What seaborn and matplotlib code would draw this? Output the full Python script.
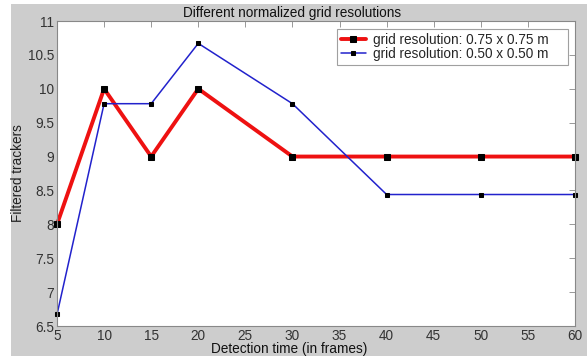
import matplotlib
matplotlib.use("Agg")
import matplotlib.pyplot as plt
import seaborn as sns
import pandas as pd
from matplotlib.patches import Rectangle

frames = [5, 10, 15, 20, 30, 40, 50, 60]
res_075 = [8, 10, 9, 10, 9, 9, 9, 9]
res_050 = [6.67, 9.78, 9.78, 10.67, 9.78, 8.44, 8.44, 8.44]
label_075 = "grid resolution: 0.75 x 0.75 m"
label_050 = "grid resolution: 0.50 x 0.50 m"
xticks = list(range(5, 61, 5))
yticks = [6.5, 7, 7.5, 8, 8.5, 9, 9.5, 10, 10.5, 11]

sns.set_style("white")
plt.rcParams['font.family'] = ['Liberation Sans', 'DejaVu Sans']

gray = "#cdcdcd"
fs = 9.8
fig = plt.figure(figsize=(5.87, 3.6), dpi=100, facecolor="white")
fig.patches.append(Rectangle((11/587, 4/360), 1 - 11/587, 1 - 8/360,
                             transform=fig.transFigure, facecolor=gray,
                             edgecolor="none", zorder=-10))
ax = fig.add_axes([57/587, 34/360, 518/587, 305/360])
ax.set_facecolor("white")

df1 = pd.DataFrame({"x": frames, "y": res_075})
df2 = pd.DataFrame({"x": frames, "y": res_050})
sns.lineplot(data=df1, x="x", y="y", ax=ax, color="#ee1111", linewidth=2.8,
             marker="s", markersize=4, markerfacecolor="black",
             markeredgecolor="black", label=label_075, clip_on=False)
sns.lineplot(data=df2, x="x", y="y", ax=ax, color="#2222cc", linewidth=1.1,
             marker="s", markersize=2.3, markerfacecolor="black",
             markeredgecolor="black", label=label_050, clip_on=False)

ax.set_xlim(5, 60)
ax.set_ylim(6.5, 11)
ax.set_xticks(xticks)
ax.set_yticks(yticks)
ax.set_yticklabels([f"{v:g}" for v in yticks])
ax.tick_params(direction="in", length=4, width=0.6, top=True, right=True,
               labelsize=fs, colors="#888888", labelcolor="#333333", pad=2)
for s in ax.spines.values():
    s.set_color("#888888")
    s.set_linewidth(0.8)
ax.set_xlabel("Detection time (in frames)", fontsize=fs, color="#111111")
ax.xaxis.set_label_coords((289 - 57) / 518, -0.052)
ax.set_ylabel("Filtered trackers", fontsize=fs, color="#222222")
ax.yaxis.set_label_coords((25 - 57) / 518, 0.5)
ax.set_title("Different normalized grid resolutions", fontsize=fs, pad=3,
             color="#111111", x=(292 - 57) / 518)
leg = ax.legend(loc="upper left",
                bbox_to_anchor=((337 - 57) / 518, 0.874, (568 - 337) / 518, 0.1),
                mode="expand", fontsize=fs,
                frameon=True, fancybox=False, edgecolor="#888888",
                handlelength=1.8, borderpad=0.3, labelspacing=0.0,
                handletextpad=0.55, borderaxespad=0)
leg.get_frame().set_linewidth(0.8)

fig.savefig("out.png", dpi=100, facecolor=fig.get_facecolor())
